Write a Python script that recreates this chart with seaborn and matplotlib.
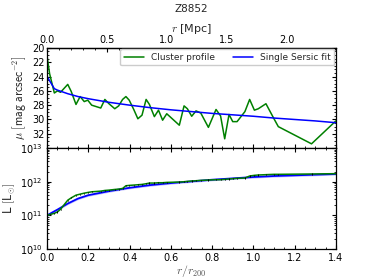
import numpy as np
import pandas as pd
import matplotlib
matplotlib.use("Agg")
import matplotlib.pyplot as plt
from matplotlib.ticker import MultipleLocator, LogLocator, NullFormatter
import seaborn as sns

# ---- data ----
R200 = 1.72  # Mpc per r200

x_prof = [0.0, 0.012, 0.035, 0.05, 0.065, 0.10, 0.117, 0.14, 0.16, 0.18, 0.197, 0.216,
          0.26, 0.28, 0.30, 0.328, 0.347, 0.366, 0.382, 0.398, 0.42, 0.44, 0.46, 0.48,
          0.496, 0.52, 0.54, 0.56, 0.58, 0.641, 0.664, 0.680, 0.701, 0.722, 0.745, 0.782,
          0.819, 0.841, 0.861, 0.882, 0.900, 0.921, 0.959, 0.982, 1.005, 1.024, 1.061,
          1.10, 1.121, 1.282, 1.40]
mu_prof = [21.2, 23.6, 26.3, 26.0, 26.2, 25.1, 26.1, 27.9, 26.8, 27.5, 27.3, 28.0,
           28.4, 27.2, 27.8, 28.5, 28.1, 27.2, 26.8, 27.3, 28.6, 29.9, 29.4, 27.2,
           27.9, 29.6, 28.7, 30.1, 29.2, 30.8, 28.1, 28.5, 29.55, 28.8, 29.1, 31.1,
           28.6, 29.5, 32.7, 29.3, 30.3, 30.3, 28.9, 27.2, 28.7, 28.5, 27.8,
           29.9, 31.0, 33.4, 30.2]
logL_prof = [11.0, 11.02, 11.06, 11.1, 11.18, 11.45, 11.52, 11.6, 11.63, 11.66, 11.68, 11.7,
             11.72, 11.74, 11.75, 11.77, 11.78, 11.8, 11.88, 11.89, 11.9, 11.91, 11.92, 11.94,
             11.96, 11.96, 11.97, 11.97, 11.98, 11.99, 12.0, 12.01, 12.02, 12.03, 12.04, 12.05,
             12.06, 12.06, 12.07, 12.08, 12.09, 12.1, 12.11, 12.17, 12.19, 12.2, 12.21,
             12.22, 12.22, 12.23, 12.24]

x_fit = [0.0, 0.035, 0.05, 0.1, 0.15, 0.2, 0.3, 0.4, 0.5, 0.6, 0.7, 0.8, 0.9, 1.0, 1.1, 1.2, 1.3, 1.4]
mu_fit = [24.0, 25.7, 25.9, 26.4, 26.8, 27.1, 27.6, 28.0, 28.35, 28.65, 28.9, 29.15,
          29.35, 29.55, 29.8, 30.0, 30.2, 30.45]
logL_fit = [11.0, 11.12, 11.17, 11.35, 11.5, 11.6, 11.72, 11.82, 11.9, 11.96, 12.01, 12.06,
            12.1, 12.14, 12.17, 12.19, 12.21, 12.23]

prof = pd.DataFrame({"x": x_prof, "mu": mu_prof, "L": 10 ** np.array(logL_prof)})
fit = pd.DataFrame({"x": x_fit, "mu": mu_fit, "L": 10 ** np.array(logL_fit)})

# ---- style ----
sns.set_style("ticks")
plt.rcParams["font.family"] = ["DejaVu Sans"]
plt.rcParams.update({
    "mathtext.fontset": "cm",
    "font.size": 7,
    "xtick.direction": "in",
    "ytick.direction": "in",
    "xtick.labelsize": 7,
    "ytick.labelsize": 7,
    "axes.edgecolor": "black",
    "axes.linewidth": 0.9,
    "xtick.color": "black",
    "ytick.color": "black",
    "xtick.major.size": 3,
    "ytick.major.size": 3,
    "xtick.minor.size": 1.5,
    "ytick.minor.size": 1.5,
    "xtick.major.pad": 2,
    "ytick.major.pad": 2,
})

fig = plt.figure(figsize=(3.74, 2.80), dpi=100)
ax1 = fig.add_axes([0.126, 0.471, 0.772, 0.358])
ax2 = fig.add_axes([0.126, 0.111, 0.772, 0.360], sharex=ax1)

# top panel
sns.lineplot(data=prof, x="x", y="mu", ax=ax1, color="green", lw=1.1,
             label="Cluster profile", sort=False, estimator=None)
sns.lineplot(data=fit, x="x", y="mu", ax=ax1, color="blue", lw=1.1,
             label="Single Sersic fit", sort=False, estimator=None)
ax1.set_xlim(0, 1.4)
ax1.set_ylim(34, 20)
ax1.set_yticks([20, 22, 24, 26, 28, 30, 32])
ax1.yaxis.set_minor_locator(MultipleLocator(0.5))
ax1.set_xlabel("")
ax1.set_ylabel(r"$\mu\ \left[\mathsf{mag\ arcsec^{-2}}\right]$", fontsize=8.5, labelpad=3)
ax1.tick_params(which="both", top=False, right=True, labelbottom=False)
ax1.legend(loc="upper right", ncol=2, fontsize=6.5, frameon=True, borderaxespad=0.15,
           handlelength=2.2, columnspacing=2.0, edgecolor="#cccccc", fancybox=True,
           framealpha=1)

sec = ax1.secondary_xaxis("top", functions=(lambda v: v * R200, lambda v: v / R200))
sec.set_xticks([0.0, 0.5, 1.0, 1.5, 2.0])
sec.xaxis.set_minor_locator(MultipleLocator(0.1))
sec.tick_params(which="both", direction="in")
sec.set_xlabel(r"$r$ [Mpc]", fontsize=8, labelpad=2)
ax1.set_title("Z8852", fontsize=7.5, pad=26)

# bottom panel
ax2.fill_between(fit["x"], fit["L"] * 0.93, fit["L"] * 1.07, color="blue", alpha=0.25, lw=0)
sns.lineplot(data=fit, x="x", y="L", ax=ax2, color="blue", lw=1.3, sort=False, estimator=None)
sns.lineplot(data=prof, x="x", y="L", ax=ax2, color="green", lw=1.1, sort=False, estimator=None)
ax2.errorbar(prof["x"], prof["L"], yerr=prof["L"] * 0.04, fmt="none", ecolor="black",
             elinewidth=0.7, capsize=0)
ax2.set_yscale("log")
ax2.set_ylim(1e10, 1e13)
ax2.set_yticks([1e10, 1e11, 1e12, 1e13])
ax2.yaxis.set_minor_locator(LogLocator(base=10, subs=np.arange(2, 10), numticks=20))
ax2.yaxis.set_minor_formatter(NullFormatter())
ax2.set_xlim(0, 1.4)
ax2.set_xticks([0.0, 0.2, 0.4, 0.6, 0.8, 1.0, 1.2, 1.4])
ax2.xaxis.set_minor_locator(MultipleLocator(0.05))
ax2.tick_params(which="both", top=True, right=True)
ax2.tick_params(axis="x", pad=3)
ax2.tick_params(axis="y", pad=3.5)
ax2.set_xlabel(r"$r/r_{200}$", fontsize=8.5, color="#555555", labelpad=0)
ax2.set_ylabel(r"L $\left[\mathsf{L}_{\odot}\right]$", fontsize=8.5, labelpad=2)

for ax in (ax1, ax2):
    for s in ax.spines.values():
        s.set_visible(True)

fig.savefig("out.png", dpi=100)
